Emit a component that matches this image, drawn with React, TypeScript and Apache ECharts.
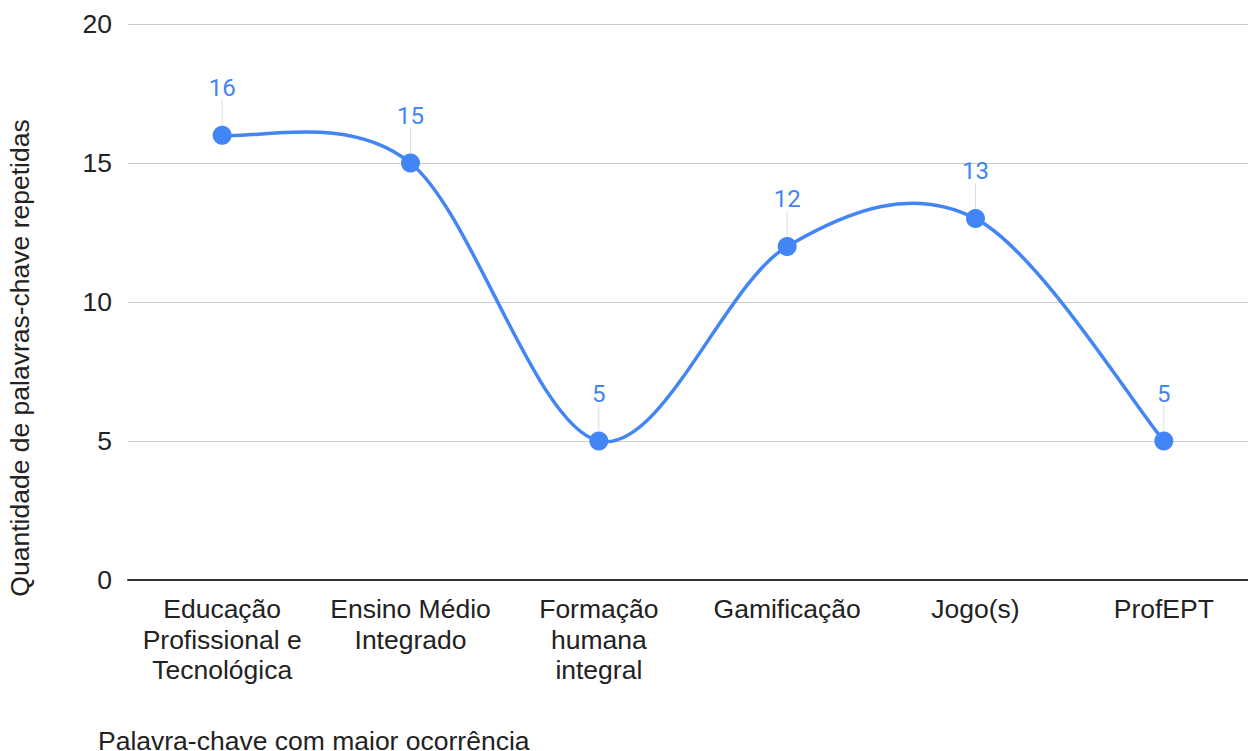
import React, { useEffect, useRef } from "react";
import * as echarts from "echarts";

const categories = [
  "Educação\nProfissional e\nTecnológica",
  "Ensino Médio\nIntegrado",
  "Formação\nhumana\nintegral",
  "Gamificação",
  "Jogo(s)",
  "ProfEPT",
];
const values = [16, 15, 5, 12, 13, 5];
const yTicks = { min: 0, max: 20, interval: 5 };
const xTitle = "Palavra-chave com maior ocorrência";
const yTitle = "Quantidade de palavras-chave repetidas";

const FONT = "Liberation Sans, Arial, sans-serif";
const BLUE = "#4285F4";
const FS = 26.5;

export default function App() {
  const ref = useRef<HTMLDivElement>(null);
  useEffect(() => {
    const chart = echarts.init(ref.current!, null, { renderer: "svg" });
    const n = values.length;
    chart.setOption({
      animation: false,
      grid: { left: 128, right: 2, top: 24, bottom: 171 },
      xAxis: {
        type: "category",
        data: categories,
        boundaryGap: true,
        axisLine: { lineStyle: { color: "#333333", width: 2 } },
        axisTick: { show: false },
        axisLabel: {
          color: "#222222",
          fontFamily: FONT,
          fontSize: FS,
          lineHeight: 30.5,
          margin: 14,
          interval: 0,
        },
      },
      yAxis: {
        type: "value",
        min: yTicks.min,
        max: yTicks.max,
        interval: yTicks.interval,
        axisLine: { show: false },
        axisTick: { show: false },
        splitLine: { lineStyle: { color: "#cccccc", width: 1 } },
        axisLabel: {
          color: "#222222",
          fontFamily: FONT,
          fontSize: FS,
          margin: 16,
        },
      },
      graphic: [
        {
          type: "text",
          x: 98,
          y: 741,
          style: {
            text: xTitle,
            fontFamily: FONT,
            fontSize: FS,
            fill: "#222222",
            verticalAlign: "middle",
          },
        },
        {
          type: "text",
          x: 6,
          y: 358,
          rotation: Math.PI / 2,
          style: {
            text: yTitle,
            fontFamily: FONT,
            fontSize: FS,
            fill: "#222222",
            align: "center",
            verticalAlign: "top",
          },
        },
      ],
      series: [
        {
          type: "custom",
          data: values.map((v, i) => [i, v]),
          z: 2,
          silent: true,
          renderItem: (params: any, api: any) => {
            const i = params.dataIndex;
            if (i >= n - 1) return null;
            const P = (j: number) => {
              const k = Math.max(0, Math.min(n - 1, j));
              return api.coord([k, values[k]]);
            };
            const p0 = P(i - 1);
            const p1 = P(i);
            const p2 = P(i + 1);
            const p3 = P(i + 2);
            const c1 = [p1[0] + (p2[0] - p0[0]) / 6, p1[1] + (p2[1] - p0[1]) / 6];
            const c2 = [p2[0] - (p3[0] - p1[0]) / 6, p2[1] - (p3[1] - p1[1]) / 6];
            return {
              type: "bezierCurve",
              shape: {
                x1: p1[0],
                y1: p1[1],
                cpx1: c1[0],
                cpy1: c1[1],
                cpx2: c2[0],
                cpy2: c2[1],
                x2: p2[0],
                y2: p2[1],
              },
              style: { stroke: BLUE, lineWidth: 3.5, fill: null },
            };
          },
        },
        {
          type: "line",
          data: values,
          symbol: "circle",
          symbolSize: 19,
          lineStyle: { width: 0, opacity: 0 },
          itemStyle: { color: BLUE },
          label: {
            show: true,
            position: "top",
            distance: 4,
            color: BLUE,
            fontFamily: "Roboto",
            fontSize: 24,
          },
          labelLayout: { dy: -22 },
          labelLine: {
            show: true,
            smooth: false,
            length2: 0,
            lineStyle: { color: "#dddddd", width: 1 },
          },
          z: 3,
        },
      ],
    });
    return () => chart.dispose();
  }, []);
  return (
    <div
      ref={ref}
      style={{ position: "fixed", left: 0, top: 0, width: 1260, height: 751, background: "#fff" }}
    />
  );
}
